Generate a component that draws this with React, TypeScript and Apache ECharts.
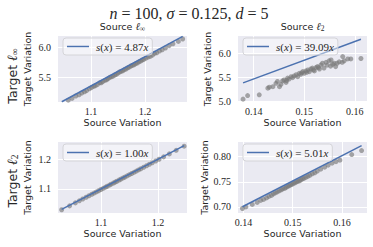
import React, { useEffect, useRef } from 'react';
import * as echarts from 'echarts';

// ---------- data ----------
const TL_X = [1.046, 1.058, 1.065, 1.072, 1.078, 1.083, 1.088, 1.092, 1.097, 1.101, 1.105, 1.108, 1.112, 1.116, 1.119, 1.122, 1.126, 1.129, 1.132, 1.135, 1.138, 1.141, 1.144, 1.147, 1.15, 1.153, 1.156, 1.159, 1.162, 1.165, 1.168, 1.171, 1.174, 1.177, 1.18, 1.183, 1.186, 1.189, 1.192, 1.195, 1.198, 1.202, 1.206, 1.21, 1.214, 1.218, 1.222, 1.227, 1.232, 1.238, 1.245, 1.252, 1.262, 1.27];
const TL_Y = [5.08, 5.12, 5.15, 5.19, 5.21, 5.24, 5.26, 5.28, 5.31, 5.33, 5.35, 5.36, 5.38, 5.41, 5.41, 5.43, 5.45, 5.46, 5.48, 5.5, 5.51, 5.52, 5.54, 5.55, 5.57, 5.59, 5.6, 5.61, 5.63, 5.64, 5.66, 5.67, 5.69, 5.7, 5.71, 5.73, 5.74, 5.76, 5.77, 5.79, 5.8, 5.82, 5.84, 5.85, 5.87, 5.9, 5.91, 5.94, 5.96, 5.99, 6.03, 6.06, 6.1, 6.14];

const TR_X = [0.1379, 0.1388, 0.1411, 0.1428, 0.1431, 0.1438, 0.1444, 0.1447, 0.1451, 0.1454, 0.1457, 0.146, 0.1464, 0.1465, 0.1467, 0.147, 0.1474, 0.1477, 0.148, 0.1484, 0.1487, 0.149, 0.1493, 0.1495, 0.1497, 0.15, 0.1503, 0.1505, 0.1507, 0.151, 0.1513, 0.1516, 0.1518, 0.152, 0.1523, 0.1526, 0.1528, 0.153, 0.1533, 0.1536, 0.1539, 0.1543, 0.1545, 0.1549, 0.1552, 0.1553, 0.1556, 0.1559, 0.1562, 0.1565, 0.1569, 0.1575, 0.1576, 0.1579, 0.1586, 0.1592, 0.1612];
const TR_Y = [5.05, 5.125, 5.14, 5.28, 5.3, 5.31, 5.38, 5.42, 5.31, 5.36, 5.43, 5.45, 5.4, 5.44, 5.49, 5.47, 5.52, 5.5, 5.535, 5.56, 5.52, 5.59, 5.57, 5.6, 5.625, 5.59, 5.64, 5.61, 5.66, 5.625, 5.68, 5.7, 5.66, 5.64, 5.71, 5.73, 5.71, 5.68, 5.765, 5.8, 5.7, 5.82, 5.76, 5.85, 5.74, 5.87, 5.78, 5.8, 5.73, 5.8, 5.83, 5.82, 5.94, 5.85, 5.89, 5.89, 5.9];

const BL_X = [1.031, 1.045, 1.055, 1.062, 1.068, 1.074, 1.079, 1.084, 1.088, 1.092, 1.096, 1.1, 1.104, 1.108, 1.111, 1.115, 1.118, 1.122, 1.125, 1.128, 1.132, 1.135, 1.139, 1.142, 1.146, 1.15, 1.154, 1.158, 1.162, 1.166, 1.17, 1.175, 1.18, 1.185, 1.19, 1.196, 1.202, 1.21, 1.22, 1.232, 1.246];
const BL_Y = [1.03, 1.043, 1.053, 1.06, 1.066, 1.072, 1.077, 1.082, 1.086, 1.09, 1.094, 1.098, 1.102, 1.106, 1.109, 1.113, 1.116, 1.12, 1.123, 1.126, 1.13, 1.133, 1.137, 1.14, 1.144, 1.148, 1.152, 1.156, 1.16, 1.164, 1.168, 1.173, 1.178, 1.183, 1.188, 1.194, 1.2, 1.208, 1.218, 1.23, 1.244];

const BR_X = [0.1398, 0.1405, 0.1418, 0.1428, 0.1435, 0.1441, 0.1447, 0.1452, 0.1457, 0.1461, 0.1465, 0.1469, 0.1473, 0.1477, 0.148, 0.1484, 0.1487, 0.149, 0.1493, 0.1496, 0.1499, 0.1502, 0.1505, 0.1508, 0.1511, 0.1514, 0.1517, 0.152, 0.1523, 0.1527, 0.1531, 0.1535, 0.154, 0.1545, 0.155, 0.1557, 0.1565, 0.1572, 0.158, 0.1588, 0.1596, 0.162, 0.164];
const BR_Y = [0.697, 0.7, 0.705, 0.709, 0.713, 0.715, 0.718, 0.721, 0.723, 0.726, 0.728, 0.73, 0.732, 0.734, 0.736, 0.737, 0.739, 0.741, 0.742, 0.744, 0.745, 0.747, 0.748, 0.75, 0.751, 0.752, 0.754, 0.756, 0.757, 0.759, 0.761, 0.763, 0.766, 0.768, 0.771, 0.775, 0.779, 0.783, 0.787, 0.79, 0.793, 0.804, 0.812];

const SLOPES = [4.87, 39.09, 1.0, 5.01];
const X_TICKS = [[1.1, 1.2], [0.14, 0.15, 0.16], [1.1, 1.2], [0.14, 0.15, 0.16]];
const Y_TICKS = [[5.5, 6.0], [5.0, 5.5, 6.0], [1.1, 1.2], [0.7, 0.75, 0.8]];
const X_DEC = [1, 2, 1, 2];
const Y_DEC = [1, 1, 1, 2];
const X_RANGES = [[1.039, 1.278], [0.1369, 0.1624], [1.0246, 1.251], [0.1389, 0.1651]];
const Y_RANGES = [[5.09, 6.19], [4.99, 6.37], [1.019, 1.258], [0.688, 0.829]];

const PANELS_X = [TL_X, TR_X, BL_X, BR_X];
const PANELS_Y = [TL_Y, TR_Y, BL_Y, BR_Y];

// ---------- layout ----------
const GRIDS = [
  { left: 58, top: 36, width: 129, height: 66 },
  { left: 238, top: 36, width: 129, height: 66 },
  { left: 58, top: 142, width: 129, height: 71 },
  { left: 238, top: 142, width: 129, height: 71 },
];

const SERIF = "'Liberation Serif', 'DejaVu Serif', serif";
const SANS = "'DejaVu Sans', sans-serif";
const BLUE = '#4C72B0';

export default function App() {
  const ref = useRef<HTMLDivElement>(null);
  useEffect(() => {
    if (!ref.current) return;
    const chart = echarts.init(ref.current, undefined, { renderer: 'svg' });

    const xAxis: any[] = [];
    const yAxis: any[] = [];
    const series: any[] = [];
    const legend: any[] = [];

    for (let i = 0; i < 4; i++) {
      const xs = PANELS_X[i];
      const ys = PANELS_Y[i];
      const name = 's(x) = ' + SLOPES[i].toFixed(2) + 'x';
      const xMin = Math.min(...xs);
      const xMax = Math.max(...xs);
      xAxis.push({
        type: 'value',
        gridIndex: i,
        min: X_RANGES[i][0],
        max: X_RANGES[i][1],
        axisLine: { show: false },
        axisTick: { show: false, customValues: X_TICKS[i] },
        splitLine: { show: true, lineStyle: { color: '#ffffff', width: 1 } },
        axisLabel: {
          customValues: X_TICKS[i],
          formatter: (v: number) => v.toFixed(X_DEC[i]),
          fontFamily: SERIF,
          fontSize: 10,
          color: '#262626',
          margin: 4,
        },
        name: 'Source Variation',
        nameLocation: 'middle',
        nameGap: 15,
        nameTextStyle: { fontFamily: SANS, fontSize: 9.5, color: '#262626' },
      });
      yAxis.push({
        type: 'value',
        gridIndex: i,
        min: Y_RANGES[i][0],
        max: Y_RANGES[i][1],
        axisLine: { show: false },
        axisTick: { show: false, customValues: Y_TICKS[i] },
        splitLine: { show: true, lineStyle: { color: '#ffffff', width: 1 } },
        axisLabel: {
          customValues: Y_TICKS[i],
          formatter: (v: number) => v.toFixed(Y_DEC[i]),
          fontFamily: SERIF,
          fontSize: 10,
          color: '#262626',
          margin: 7,
        },
        name: 'Target Variation',
        nameLocation: 'middle',
        nameGap: 26,
        nameTextStyle: { fontFamily: SANS, fontSize: 9.5, color: '#262626' },
      });
      series.push({
        type: 'scatter',
        xAxisIndex: i,
        yAxisIndex: i,
        data: xs.map((x, k) => [x, ys[k]]),
        symbolSize: 5,
        itemStyle: { color: '#7a7a7a', opacity: 0.65 },
        z: 2,
      });
      series.push({
        type: 'line',
        name,
        xAxisIndex: i,
        yAxisIndex: i,
        data: [[xMin, SLOPES[i] * xMin], [xMax, SLOPES[i] * xMax]],
        showSymbol: false,
        lineStyle: { color: BLUE, width: 1.5 },
        itemStyle: { color: BLUE },
        z: 3,
      });
      legend.push({
        data: [{ name, icon: 'rect' }],
        left: GRIDS[i].left + 5,
        top: GRIDS[i].top + 2,
        orient: 'horizontal',
        padding: [3, 4, 3, 4],
        itemWidth: 22,
        itemHeight: 1.5,
        backgroundColor: 'rgba(255,255,255,0.45)',
        borderColor: '#d4d4d8',
        borderWidth: 1,
        borderRadius: 3,
        selectedMode: false,
        formatter: () =>
          '{i|s}(' + '{i|x}) = ' + SLOPES[i].toFixed(2) + '{i|x}',
        textStyle: {
          fontFamily: SERIF,
          fontSize: 11,
          color: '#262626',
          padding: [0, 0, 0, 2],
          rich: {
            i: { fontFamily: SERIF, fontStyle: 'italic', fontSize: 11, color: '#262626' },
          },
        },
      });
    }

    const colTitle = (x: number, sub: string) => ({
      type: 'text',
      x,
      y: 26,
      style: {
        text: '{a|Source }{b|ℓ}{c|' + sub + '}',
        align: 'center',
        verticalAlign: 'middle',
        rich: {
          a: { fontFamily: SANS, fontSize: 9.5, fill: '#262626' },
          b: { fontFamily: SERIF, fontStyle: 'italic', fontSize: 10.5, fill: '#262626' },
          c: { fontFamily: SERIF, fontSize: 7.5, fill: '#262626', verticalAlign: 'bottom', padding: [4, 0, 0, 0] },
        },
      },
    });

    const rowTitle = (y: number, sub: string) => ({
      type: 'text',
      x: 12,
      y,
      rotation: Math.PI / 2,
      style: {
        text: '{a|Target }{b|ℓ}{c|' + sub + '}',
        align: 'center',
        verticalAlign: 'middle',
        rich: {
          a: { fontFamily: SANS, fontSize: 12.5, fill: '#262626' },
          b: { fontFamily: SERIF, fontStyle: 'italic', fontSize: 14, fill: '#262626' },
          c: { fontFamily: SERIF, fontSize: 9.5, fill: '#262626', verticalAlign: 'bottom', padding: [5, 0, 0, 0] },
        },
      },
    });

    chart.setOption({
      animation: false,
      grid: GRIDS.map((g) => ({
        ...g,
        show: true,
        backgroundColor: '#EAEAF2',
        borderWidth: 0,
        containLabel: false,
      })),
      xAxis,
      yAxis,
      series,
      legend,
      graphic: [
        {
          type: 'text',
          x: 189,
          y: 13,
          style: {
            text: '{i|n} = 100, {i|σ} = 0.125, {i|d} = 5',
            align: 'center',
            verticalAlign: 'middle',
            fontFamily: SERIF,
            fontSize: 16,
            fill: '#262626',
            rich: {
              i: { fontFamily: SERIF, fontStyle: 'italic', fontSize: 16, fill: '#262626' },
            },
          },
        },
        colTitle(122.5, '∞'),
        colTitle(302.5, '2'),
        rowTitle(76, '∞'),
        rowTitle(181, '2'),
      ],
    });
    return () => chart.dispose();
  }, []);
  return (
    <div
      ref={ref}
      style={{ position: 'fixed', left: 0, top: 0, width: 373, height: 247, background: '#ffffff' }}
    />
  );
}
